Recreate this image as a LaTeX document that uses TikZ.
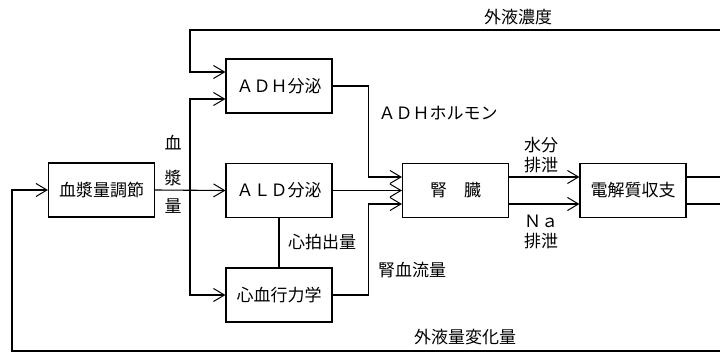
\documentclass[tikz,border=0pt]{standalone}
\usepackage{fontspec}
\setmainfont{Noto Sans CJK JP}
\usetikzlibrary{arrows.meta,calc}
\begin{document}
\begin{tikzpicture}[x=1pt,y=-1pt,
  box/.style={draw,line width=1.1pt,minimum width=106pt,minimum height=54pt,inner sep=0pt,font=\fontsize{17}{19}\selectfont},
  lbl/.style={inner sep=0pt,font=\fontsize{17}{19}\selectfont},
  ln/.style={line width=1.1pt},
  arr/.style={ln,-{Straight Barb[length=11pt,width=13pt,line width=1pt]}}]
\useasboundingbox (0,0) rectangle (720,353);
% boxes
\node[box] (adh) at (279,86) {ＡＤＨ分泌};
\node[box] (ald) at (279,190.5) {ＡＬＤ分泌};
\node[box] (hd) at (279,295) {心血行力学};
\node[box] (reg) at (101.5,190) {血漿量調節};
\node[box] (kid) at (455.5,190.5) {腎　臓};
\node[box] (ele) at (633,190.5) {電解質収支};
% free ends
\coordinate (topR) at (721,30);
\coordinate (topL) at (190,30);
\coordinate (botR) at (721,351);
\coordinate (botL) at (12,351);
\coordinate (j) at (190,190);
\coordinate (outA) at (721,177);
\coordinate (outB) at (721,204);
% connectors
\draw[arr] (topR) -- (topL) |- ($(adh.west)+(0,-14)$);
\draw[arr] (botR) -- (botL) |- (reg.west);
\draw[arr] (reg.east) -- (ald.west);
\draw[arr] (j) |- ($(adh.west)+(0,13)$);
\draw[arr] (j) |- (hd.west);
\draw[ln] (ald.south) -- (hd.north);
\draw[arr] (adh.east) -- ($(adh.east)+(36,0)$) |- ($(kid.west)+(0,-13.5)$);
\draw[arr] (ald.east) -- (kid.west);
\draw[arr] (hd.east) -- ($(hd.east)+(36,0)$) |- ($(kid.west)+(0,13.5)$);
\draw[arr] ($(kid.east)+(0,-13.5)$) -- ($(ele.west)+(0,-13.5)$);
\draw[arr] ($(kid.east)+(0,13.5)$) -- ($(ele.west)+(0,13.5)$);
\draw[ln] ($(ele.east)+(0,-13.5)$) -- (outA);
\draw[ln] ($(ele.east)+(0,13.5)$) -- (outB);
% labels
\node[lbl] (l1) at (518,17) {外液濃度};
\node[lbl] (l2) at (438,113) {ＡＤＨホルモン};
\node[lbl] (l3) at (541,145) {水分};
\node[lbl] (l4) at (541,165) {排泄};
\node[lbl] (l5) at (541,221) {Ｎａ};
\node[lbl] (l6) at (541,241) {排泄};
\node[lbl] (l7) at (322,242) {心拍出量};
\node[lbl] (l8) at (412,270) {腎血流量};
\node[lbl] (l9) at (465,337) {外液量変化量};
\node[lbl] (b1) at (173,143) {血};
\node[lbl] (b2) at (173,178) {漿};
\node[lbl] (b3) at (173,206) {量};
\end{tikzpicture}
\end{document}
